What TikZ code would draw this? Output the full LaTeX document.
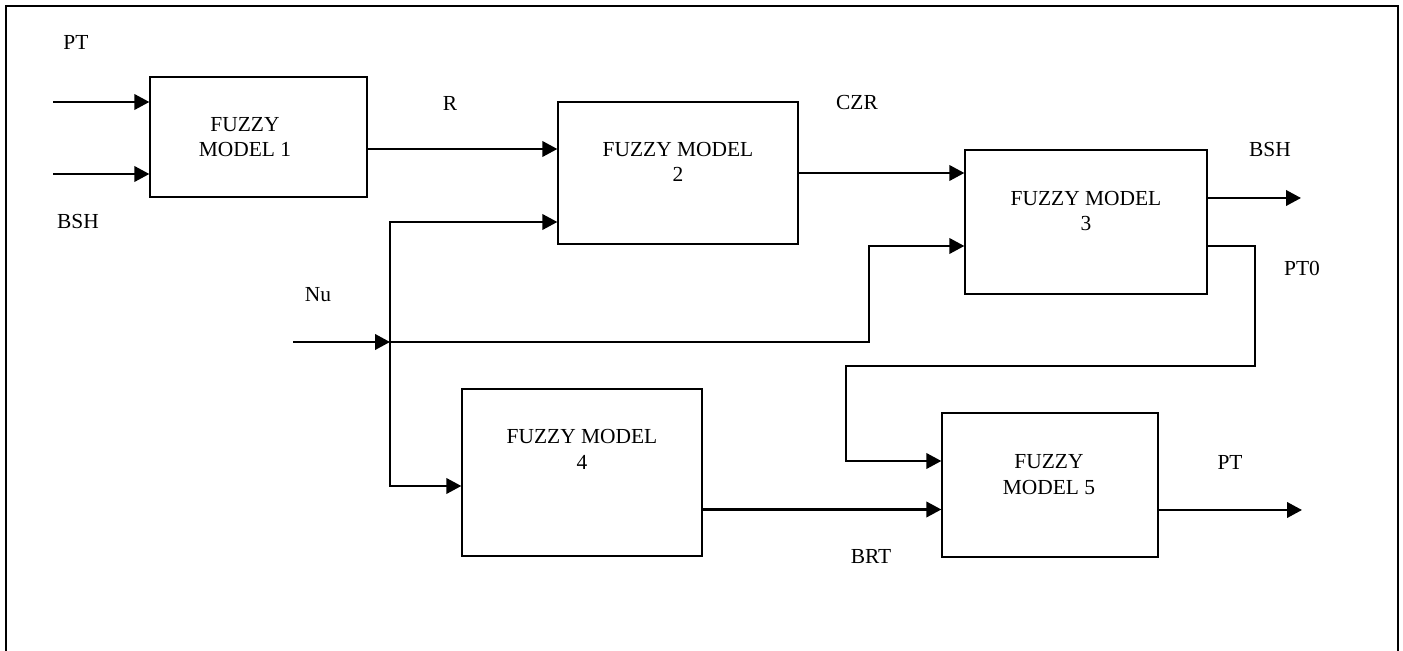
\documentclass[tikz,border=0pt]{standalone}
\usepackage{fontspec}
\setmainfont{Liberation Serif}
\usetikzlibrary{positioning,arrows.meta,calc}

\begin{document}
\begin{tikzpicture}[x=0.2mm, y=-0.2mm,
    fbox/.style={draw, rectangle, line width=0.75pt, inner sep=0pt},
    sig/.style={line width=1.3pt, -{Triangle[length=3mm, width=3.1mm]}},
    lbl/.style={font=\fontsize{12.2}{14.5}\selectfont, inner sep=0pt},
    fz/.style={lbl, align=center}]
    \useasboundingbox (0,0) rectangle (1403,651);
    \draw[line width=0.8pt] (6,651) -- (6,6) -- (1398,6) -- (1398,651);

    % fuzzy model blocks
    \node[fbox, minimum width=43.4mm, minimum height=24mm] (m1) at (258.5,137) {};
    \node[fbox, minimum width=48mm, minimum height=28.4mm] (m2) at (678,173) {};
    \node[fbox, minimum width=48.4mm, minimum height=28.8mm] (m3) at (1086,222) {};
    \node[fbox, minimum width=48mm, minimum height=33.4mm] (m4) at (582,472.5) {};
    \node[fbox, minimum width=43.2mm, minimum height=28.8mm] (m5) at (1050,485) {};
    \node[fz] (t1) at (245,137) {FUZZY\\MODEL 1};
    \node[fz] (t2) at (678,162) {FUZZY MODEL\\2};
    \node[fz] (t3) at (1086,211) {FUZZY MODEL\\3};
    \node[fz] (t4) at (582,449.5) {FUZZY MODEL\\4};
    \node[fz] (t5) at (1049,474.5) {FUZZY\\MODEL 5};

    % signal names
    \node[lbl] (lPT) at (76,42) {PT};
    \node[lbl] (lBSH) at (78,222) {BSH};
    \node[lbl] (lR) at (450,103) {R};
    \node[lbl] (lCZR) at (857,103) {CZR};
    \node[lbl] (lNu) at (318,295) {Nu};
    \node[lbl] (lBSHo) at (1270,150) {BSH};
    \node[lbl] (lPT0) at (1302,268) {PT0};
    \node[lbl] (lBRT) at (871,557) {BRT};
    \node[lbl] (lPTo) at (1230,462) {PT};

    % free ends and bends
    \coordinate (inPT) at (53,102);
    \coordinate (inBSH) at (53,174);
    \coordinate (inNu) at (293,342);
    \coordinate (split) at (390,342);
    \coordinate (bend3) at (869,342);
    \coordinate (loopR) at (1255,366);
    \coordinate (loopL) at (846,366);
    \coordinate (outBSH) at (1301,198);
    \coordinate (outPT) at (1302,510);

    \draw[sig] (inPT) -- (inPT -| m1.west);
    \draw[sig] (inBSH) -- (inBSH -| m1.west);
    \draw[sig] ([shift={(0,12)}]m1.east) -- ([shift={(0,12)}]m1.east -| m2.west);
    \draw[sig] (m2.east) -- (m2.east -| m3.west);
    \draw[sig] (inNu) -- (split);
    \draw[sig] (split) |- ([shift={(0,49)}]m2.west);
    \draw[sig] (split) -- (bend3) |- ([shift={(0,24)}]m3.west);
    \draw[sig] (split) |- ([shift={(0,13.5)}]m4.west);
    \draw[sig] ([shift={(0,37)}]m4.east) -- ([shift={(0,37)}]m4.east -| m5.west);
    \draw[sig] ([shift={(0,-24)}]m3.east) -- (outBSH);
    \draw[sig] ([shift={(0,24)}]m3.east) -| (loopR) -- (loopL) |- ([shift={(0,-24)}]m5.west);
    \draw[sig] ([shift={(0,25)}]m5.east) -- (outPT);
\end{tikzpicture}
\end{document}
